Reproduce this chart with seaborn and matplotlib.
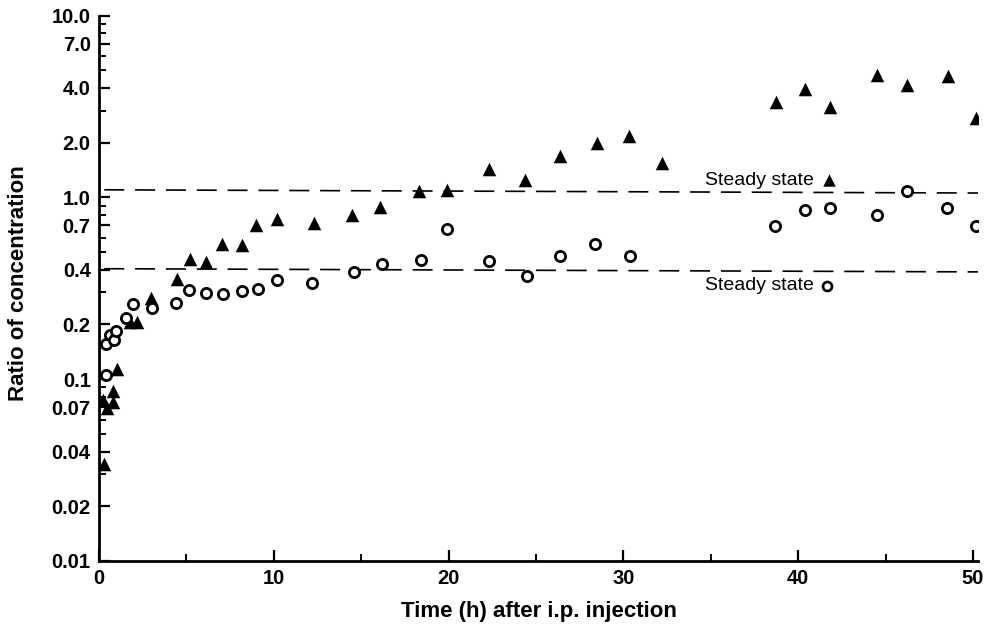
import numpy as np
import pandas as pd
import matplotlib
matplotlib.use("Agg")
import matplotlib.pyplot as plt
import seaborn as sns
from matplotlib.ticker import FixedLocator, FixedFormatter, NullFormatter

# filled triangles
tri_x = [0.3, 0.25, 0.45, 0.8, 0.8, 1.05, 1.75, 2.15, 3.0, 4.45, 5.2, 6.1, 7.05, 8.2,
         9.0, 10.2, 12.3, 14.5, 16.1, 18.3, 19.9, 22.3, 24.4, 26.4, 28.5, 30.3, 32.2,
         38.75, 40.4, 41.8, 44.5, 46.2, 48.6, 50.2]
tri_y = [0.034, 0.077, 0.069, 0.086, 0.075, 0.114, 0.207, 0.207, 0.28, 0.355, 0.46,
         0.44, 0.557, 0.545, 0.708, 0.76, 0.72, 0.80, 0.885, 1.09, 1.10, 1.44, 1.24,
         1.69, 2.0, 2.17, 1.55, 3.34, 3.95, 3.13, 4.68, 4.15, 4.62, 2.74]

# open circles
circ_x = [0.4, 0.4, 0.63, 0.86, 0.97, 1.55, 1.95, 3.05, 4.4, 5.15, 6.1, 7.1, 8.2,
          9.1, 10.2, 12.2, 14.6, 16.2, 18.4, 19.9, 22.3, 24.5, 26.4, 28.4, 30.4,
          38.7, 40.4, 41.8, 44.5, 46.2, 48.5, 50.15]
circ_y = [0.105, 0.157, 0.175, 0.165, 0.184, 0.218, 0.258, 0.246, 0.262, 0.308,
          0.296, 0.293, 0.306, 0.315, 0.35, 0.338, 0.387, 0.432, 0.45, 0.667, 0.445,
          0.37, 0.478, 0.557, 0.478, 0.693, 0.849, 0.87, 0.80, 1.08, 0.877, 0.695]

# steady state dashed lines (start, end)
steady_x = [0.3, 50.3]
steady_tri = [1.10, 1.056]
steady_circ = [0.405, 0.389]

# steady state labels
label_text = "Steady state"
label_tri_x, label_tri_y = 41.75, 1.24
label_circ_x, label_circ_y = 41.65, 0.326

ytick_vals = [0.01, 0.02, 0.04, 0.07, 0.1, 0.2, 0.4, 0.7, 1.0, 2.0, 4.0, 7.0, 10.0]
ytick_labels = ["0.01", "0.02", "0.04", "0.07", "0.1", "0.2", "0.4", "0.7",
                "1.0", "2.0", "4.0", "7.0", "10.0"]
yminor_vals = [0.03, 0.05, 0.06, 0.08, 0.09, 0.3, 0.5, 0.6, 0.8, 0.9,
               3, 5, 6, 8, 9]
xtick_vals = [0, 10, 20, 30, 40, 50]
xminor_vals = [5, 15, 25, 35, 45]

sns.set_style("ticks", {"axes.edgecolor": "black", "text.color": "black",
                        "axes.labelcolor": "black", "xtick.color": "black",
                        "ytick.color": "black"})
plt.rcParams['font.family'] = ['Liberation Sans', 'DejaVu Sans']

tri = pd.DataFrame({"t": tri_x, "ratio": tri_y})
circ = pd.DataFrame({"t": circ_x, "ratio": circ_y})

fig = plt.figure(figsize=(9.9, 6.33), dpi=100)
ax = fig.add_axes([99 / 990, 1 - 561 / 633, 879 / 990, 545.5 / 633])

ax.plot(steady_x, steady_tri, color="black", lw=1.2, dashes=(12, 6.5))
ax.plot(steady_x, steady_circ, color="black", lw=1.2, dashes=(12, 6.5))

sns.scatterplot(data=tri, x="t", y="ratio", marker="^", color="black",
                s=95, linewidth=0, ax=ax, zorder=3)
sns.scatterplot(data=circ, x="t", y="ratio", marker="o", facecolor="white",
                edgecolor="black", s=54, linewidth=2.0, ax=ax, zorder=3)

# labels with marker keys
ax.scatter([label_tri_x], [label_tri_y], marker="^", color="black", s=80,
           linewidth=0, zorder=3)
ax.scatter([label_circ_x], [label_circ_y], marker="o", facecolor="white",
           edgecolor="black", s=42, linewidth=1.9, zorder=3)
ax.text(label_tri_x - 0.85, label_tri_y, label_text, ha="right", va="center",
        fontsize=14, color="black")
ax.text(label_circ_x - 0.75, label_circ_y, label_text, ha="right", va="center",
        fontsize=14, color="black")

ax.set_yscale("log")
ax.set_ylim(0.01, 10)
ax.set_xlim(0, 50.29)

ax.yaxis.set_major_locator(FixedLocator(ytick_vals))
ax.yaxis.set_major_formatter(FixedFormatter(ytick_labels))
ax.yaxis.set_minor_locator(FixedLocator(yminor_vals))
ax.yaxis.set_minor_formatter(NullFormatter())
ax.set_xticks(xtick_vals)
ax.set_xticks(xminor_vals, minor=True)

ax.tick_params(axis="both", which="major", direction="in", length=8, width=1.6,
               labelsize=14.5, pad=6)
ax.tick_params(axis="both", which="minor", direction="in", length=5, width=1.4)
for lab in ax.get_xticklabels() + ax.get_yticklabels():
    lab.set_fontweight("bold")

sns.despine(ax=ax)
for side in ["left", "bottom"]:
    ax.spines[side].set_linewidth(2)

ax.set_xlabel("Time (h) after i.p. injection", fontsize=16, fontweight="bold")
ax.set_ylabel("Ratio of concentration", fontsize=16, fontweight="bold")
ax.xaxis.set_label_coords(0.5, -0.073)
ax.yaxis.set_label_coords(-0.08, 0.51)

fig.savefig("out.png", dpi=100)
